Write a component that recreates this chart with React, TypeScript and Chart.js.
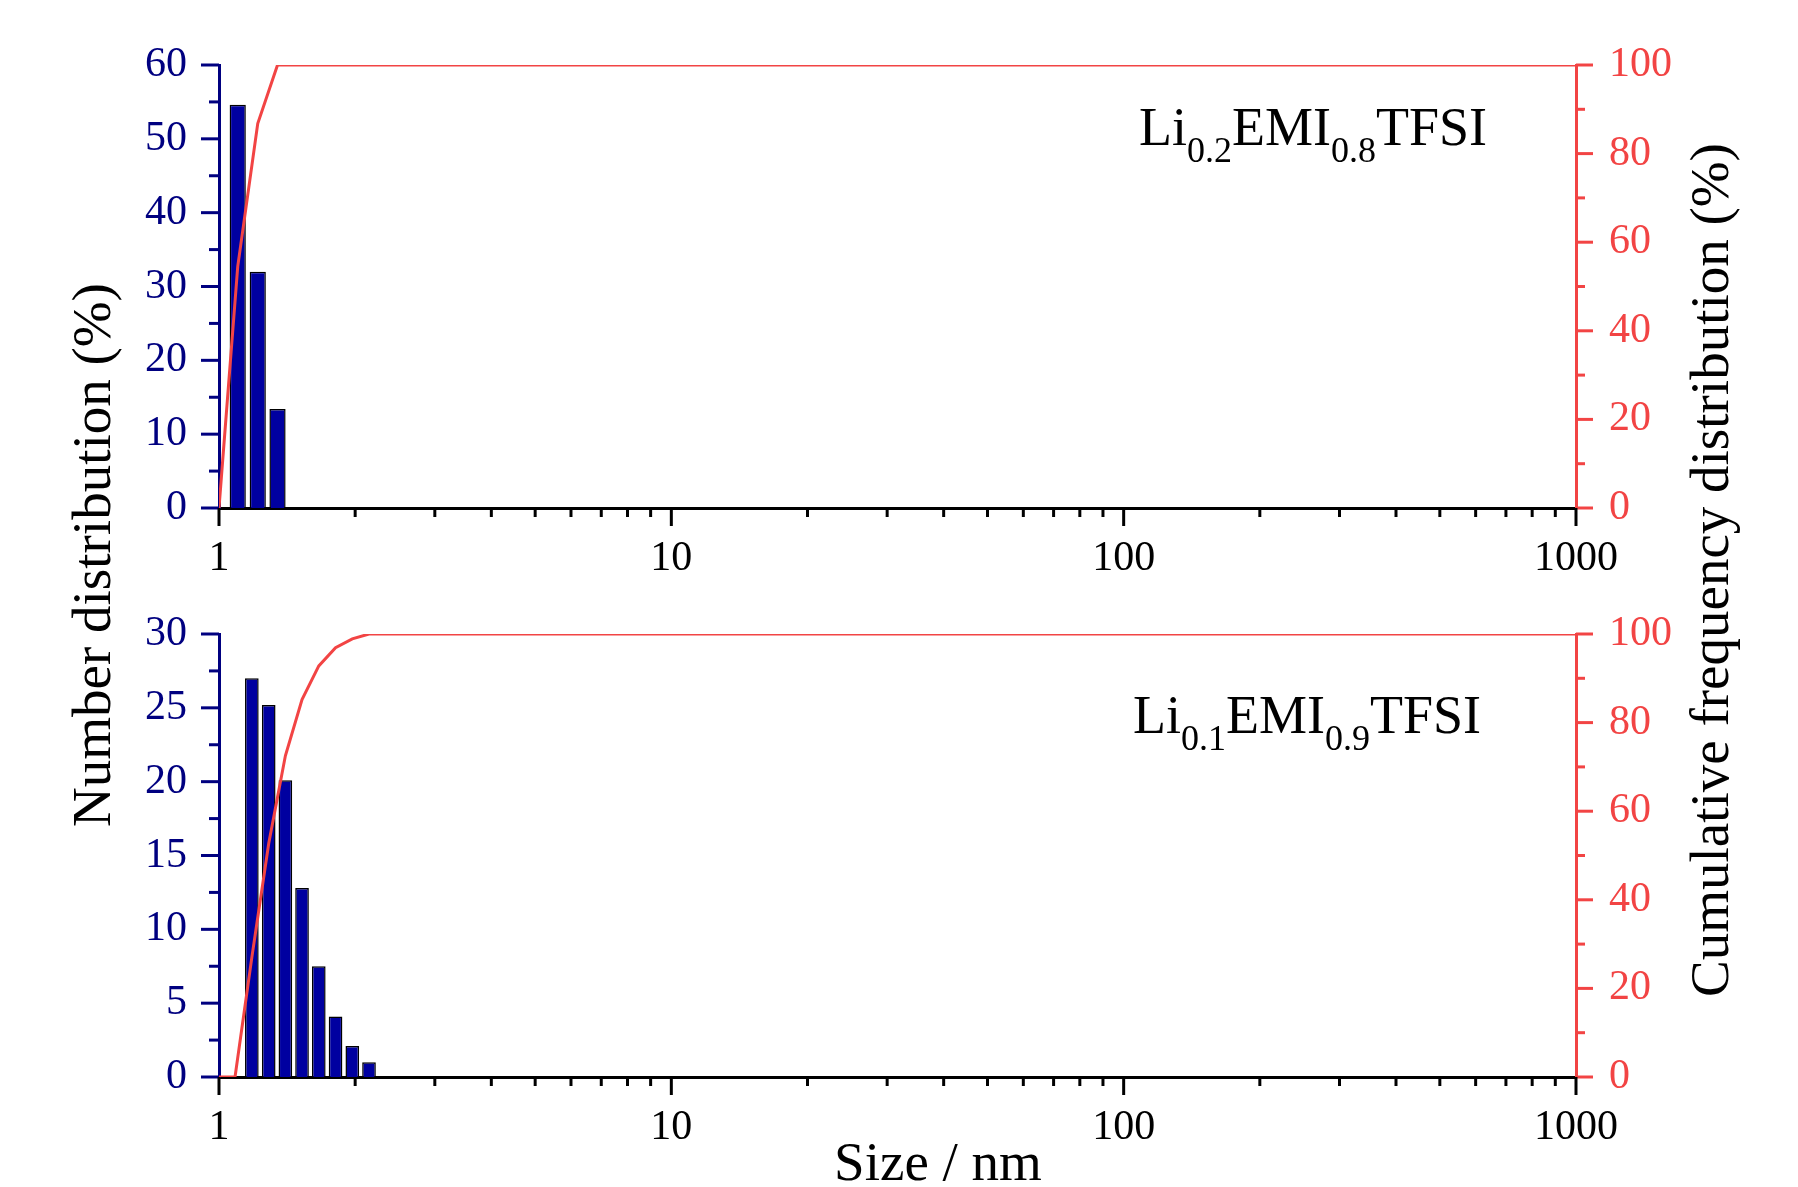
import React, { useEffect, useRef } from 'react';
import { Chart, registerables } from 'chart.js';

Chart.register(...registerables);

const W = 1798;
const H = 1187;
const SERIF = '"Liberation Serif", "Times New Roman", serif';

const NAVY = '#000080';
const BAR_FILL = '#0000A0';
const RED = '#F24444';
const BLACK = '#000000';

// ---- Data: top panel (Li0.2EMI0.8TFSI)
const TOP_BAR_SIZES = [1.10, 1.218, 1.347];
const TOP_BAR_VALUES = [54.6, 32.0, 13.4];
const TOP_CUM_SIZES = [1.0, 1.10, 1.218, 1.347, 1000];
const TOP_CUM_VALUES = [0, 54.5, 86.8, 100, 100];
const TOP_LABEL = ['Li', '0.2', 'EMI', '0.8', 'TFSI'];

// ---- Data: bottom panel (Li0.1EMI0.9TFSI)
const BOT_BAR_SIZES = [1.182, 1.288, 1.402, 1.526, 1.662, 1.810, 1.971, 2.146];
const BOT_BAR_VALUES = [27.0, 25.2, 20.1, 12.8, 7.5, 4.1, 2.1, 1.0];
const BOT_CUM_SIZES = [1.0, 1.085, 1.182, 1.288, 1.402, 1.526, 1.662, 1.810, 1.971, 2.146, 1000];
const BOT_CUM_VALUES = [0, 0, 27.0, 52.7, 72.5, 85.2, 92.8, 96.9, 98.9, 100, 100];
const BOT_LABEL = ['Li', '0.1', 'EMI', '0.9', 'TFSI'];

// ---- Axes
const X_TICKS = [1, 10, 100, 1000];
const X_MINOR_MULTIPLIERS = [2, 3, 4, 5, 6, 7, 8, 9];
const TOP_Y_MAX = 60;
const TOP_Y_STEP = 10;
const BOT_Y_MAX = 30;
const BOT_Y_STEP = 5;
const CUM_MAX = 100;
const CUM_STEP = 20;

const LEFT_TITLE = 'Number distribution (%)';
const RIGHT_TITLE = 'Cumulative frequency distribution (%)';
const X_TITLE = 'Size / nm';

const tickMarksPlugin = {
  id: 'tickMarks',
  afterDraw(chart: any) {
    const ctx = chart.ctx;
    const { x, y, y2 } = chart.scales;
    const area = chart.chartArea;
    ctx.save();
    ctx.lineWidth = 3;
    ctx.lineCap = 'butt';
    const seg = (x1: number, y1: number, x2: number, y2p: number) => {
      ctx.beginPath();
      ctx.moveTo(x1, y1);
      ctx.lineTo(x2, y2p);
      ctx.stroke();
    };
    // left axis
    ctx.strokeStyle = NAVY;
    const ly = y.ticks.map((t: any) => t.value);
    ly.forEach((v: number, i: number) => {
      const p = y.getPixelForValue(v);
      seg(area.left - 18, p, area.left, p);
      if (i < ly.length - 1) {
        const pm = y.getPixelForValue((v + ly[i + 1]) / 2);
        seg(area.left - 10, pm, area.left, pm);
      }
    });
    // right axis
    ctx.strokeStyle = RED;
    const ry = y2.ticks.map((t: any) => t.value);
    ry.forEach((v: number, i: number) => {
      const p = y2.getPixelForValue(v);
      seg(area.right, p, area.right + 17, p);
      if (i < ry.length - 1) {
        const pm = y2.getPixelForValue((v + ry[i + 1]) / 2);
        seg(area.right, pm, area.right + 9, pm);
      }
    });
    // x axis
    ctx.strokeStyle = BLACK;
    X_TICKS.forEach((d, i) => {
      const p = x.getPixelForValue(d);
      seg(p, area.bottom, p, area.bottom + 18);
      if (i < X_TICKS.length - 1) {
        X_MINOR_MULTIPLIERS.forEach((m) => {
          const pm = x.getPixelForValue(m * d);
          seg(pm, area.bottom, pm, area.bottom + 9);
        });
      }
    });
    ctx.restore();
  },
};

function makeLabelPlugin(parts: string[], left: number, baselineOffset: number) {
  return {
    id: 'sampleLabel',
    afterDraw(chart: any) {
      const ctx = chart.ctx;
      const base = chart.chartArea.top + baselineOffset;
      let cx = left;
      ctx.save();
      ctx.fillStyle = BLACK;
      ctx.textAlign = 'left';
      ctx.textBaseline = 'alphabetic';
      parts.forEach((t, i) => {
        const sub = i % 2 === 1;
        ctx.font = `${sub ? 36 : 54}px ${SERIF}`;
        ctx.fillText(t, cx, sub ? base + 17 : base);
        cx += ctx.measureText(t).width;
      });
      ctx.restore();
    },
  };
}

const sharedTitlesPlugin = {
  id: 'sharedTitles',
  afterDraw(chart: any) {
    const ctx = chart.ctx;
    ctx.save();
    ctx.fillStyle = BLACK;
    ctx.font = `55px ${SERIF}`;
    ctx.textAlign = 'center';
    ctx.textBaseline = 'alphabetic';
    ctx.save();
    ctx.translate(110, 555);
    ctx.rotate(-Math.PI / 2);
    ctx.fillText(LEFT_TITLE, 0, 0);
    ctx.restore();
    ctx.save();
    ctx.translate(1728, 570);
    ctx.rotate(-Math.PI / 2);
    ctx.fillText(RIGHT_TITLE, 0, 0);
    ctx.restore();
    ctx.fillText(X_TITLE, 938, 1180);
    ctx.restore();
  },
};

interface PanelCfg {
  barX: number[];
  barY: number[];
  cumX: number[];
  cumY: number[];
  yMax: number;
  yStep: number;
  top: number;
  bottom: number;
  label: string[];
  labelX: number;
  labelBase: number;
  shared: boolean;
}

function buildConfig(p: PanelCfg): any {
  const tickFont = { family: SERIF, size: 42 };
  const plugins: any[] = [tickMarksPlugin, makeLabelPlugin(p.label, p.labelX, p.labelBase)];
  if (p.shared) plugins.push(sharedTitlesPlugin);
  return {
    type: 'bar',
    data: {
      datasets: [
        {
          type: 'line',
          data: p.cumX.map((x, i) => ({ x, y: p.cumY[i] })),
          yAxisID: 'y2',
          xAxisID: 'x',
          borderColor: RED,
          borderWidth: 3,
          pointRadius: 0,
          tension: 0,
          fill: false,
          order: 0,
        },
        {
          type: 'bar',
          data: p.barX.map((x, i) => ({ x, y: p.barY[i] })),
          yAxisID: 'y',
          xAxisID: 'x',
          backgroundColor: BAR_FILL,
          borderColor: BLACK,
          borderWidth: 1.5,
          barPercentage: 0.82,
          categoryPercentage: 1,
          order: 1,
        },
      ],
    },
    options: {
      responsive: false,
      animation: false,
      events: [],
      layout: { padding: { top: p.top, left: 0, right: 0, bottom: 0 } },
      plugins: {
        legend: { display: false },
        tooltip: { enabled: false },
        title: { display: false },
      },
      scales: {
        x: {
          type: 'logarithmic',
          position: 'bottom',
          min: 1,
          max: 1000,
          offset: false,
          afterBuildTicks: (s: any) => {
            s.ticks = X_TICKS.map((v) => ({ value: v }));
          },
          afterFit: (s: any) => {
            s.height = H - p.bottom;
          },
          grid: { display: false, drawTicks: false, offset: false },
          border: { display: true, color: BLACK, width: 3 },
          ticks: {
            autoSkip: false,
            maxRotation: 0,
            minRotation: 0,
            padding: 26,
            color: BLACK,
            font: tickFont,
            callback: (v: any) => String(v),
          },
        },
        y: {
          position: 'left',
          min: 0,
          max: p.yMax,
          afterFit: (s: any) => {
            s.width = 219;
          },
          grid: { display: false, drawTicks: false },
          border: { display: true, color: NAVY, width: 3 },
          ticks: { stepSize: p.yStep, padding: 32, color: NAVY, font: tickFont },
        },
        y2: {
          position: 'right',
          min: 0,
          max: CUM_MAX,
          afterFit: (s: any) => {
            s.width = W - 1576;
          },
          grid: { display: false, drawTicks: false },
          border: { display: true, color: RED, width: 3 },
          ticks: { stepSize: CUM_STEP, padding: 33, color: RED, font: tickFont },
        },
      },
    },
    plugins,
  };
}

export default function App() {
  const topRef = useRef<HTMLCanvasElement>(null);
  const botRef = useRef<HTMLCanvasElement>(null);

  useEffect(() => {
    const c1 = new Chart(
      topRef.current as HTMLCanvasElement,
      buildConfig({
        barX: TOP_BAR_SIZES,
        barY: TOP_BAR_VALUES,
        cumX: TOP_CUM_SIZES,
        cumY: TOP_CUM_VALUES,
        yMax: TOP_Y_MAX,
        yStep: TOP_Y_STEP,
        top: 65,
        bottom: 508,
        label: TOP_LABEL,
        labelX: 1139,
        labelBase: 80,
        shared: false,
      })
    );
    const c2 = new Chart(
      botRef.current as HTMLCanvasElement,
      buildConfig({
        barX: BOT_BAR_SIZES,
        barY: BOT_BAR_VALUES,
        cumX: BOT_CUM_SIZES,
        cumY: BOT_CUM_VALUES,
        yMax: BOT_Y_MAX,
        yStep: BOT_Y_STEP,
        top: 634,
        bottom: 1077,
        label: BOT_LABEL,
        labelX: 1133,
        labelBase: 99,
        shared: true,
      })
    );
    return () => {
      c1.destroy();
      c2.destroy();
    };
  }, []);

  const canvasStyle: React.CSSProperties = {
    position: 'absolute',
    left: 0,
    top: 0,
    width: W,
    height: H,
    display: 'block',
  };

  return (
    <div
      style={{
        position: 'absolute',
        left: 0,
        top: 0,
        width: W,
        height: H,
        background: '#ffffff',
        overflow: 'hidden',
      }}
    >
      <canvas ref={topRef} width={W} height={H} style={canvasStyle} />
      <canvas ref={botRef} width={W} height={H} style={canvasStyle} />
    </div>
  );
}
